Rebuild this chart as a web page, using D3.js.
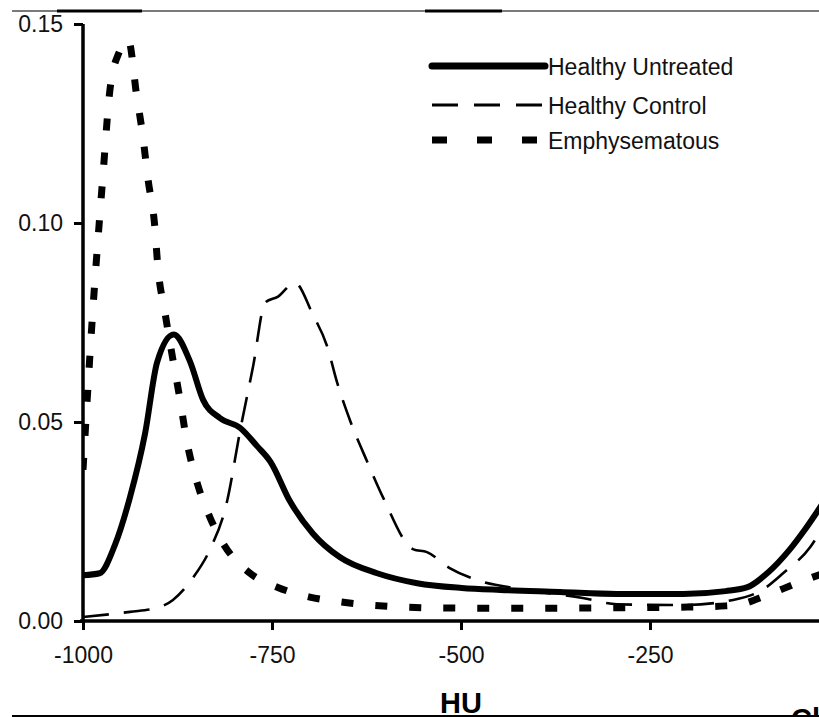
<!DOCTYPE html>
<html>
<head>
<meta charset="utf-8">
<script src="https://cdn.jsdelivr.net/npm/d3@7"></script>
<style>
  body { margin: 0; background: #fff; }
  svg { display: block; font-family: "Liberation Sans", Arial, sans-serif; }
</style>
</head>
<body>
<svg id="chart"></svg>
<script>
const WIDTH = 819
const HEIGHT = 717

// Healthy Untreated
const untreatedHU = [-1000, -978, -958, -938, -918, -902, -880, -858, -841, -819, -792, -770, -752, -726, -696, -660, -611, -558, -499, -448, -369, -294, -206, -150, -121, -95, -65, -45, -20]
const untreatedVal = [0.0115, 0.012, 0.019, 0.031, 0.047, 0.065, 0.072, 0.065, 0.0555, 0.051, 0.0485, 0.044, 0.040, 0.030, 0.022, 0.016, 0.012, 0.0095, 0.0083, 0.0078, 0.0073, 0.0068, 0.0068, 0.0075, 0.0085, 0.012, 0.018, 0.023, 0.030]

// Healthy Control
const controlHU = [-1000, -938, -902, -881, -854, -832, -810, -792, -775, -759, -742, -720, -696, -677, -664, -647, -624, -603, -563, -545, -515, -479, -420, -339, -294, -206, -140, -100, -74, -38, -20]
const controlVal = [0.001, 0.0023, 0.0033, 0.0053, 0.011, 0.018, 0.0296, 0.048, 0.064, 0.080, 0.0815, 0.085, 0.077, 0.069, 0.060, 0.0505, 0.040, 0.031, 0.018, 0.0173, 0.0133, 0.0103, 0.0080, 0.0058, 0.0042, 0.004, 0.0053, 0.008, 0.012, 0.0186, 0.024]

// Emphysematous
const emphHU = [-1000, -987, -974, -964, -952, -940, -929, -921, -914, -905, -901, -892, -881, -872, -863, -849, -832, -815, -779, -743, -700, -660, -620, -577, -537, -450, -300, -200, -150, -135, -95, -56, -20]
const emphVal = [0.038, 0.078, 0.111, 0.134, 0.143, 0.146, 0.132, 0.122, 0.111, 0.099, 0.089, 0.078, 0.0656, 0.056, 0.0455, 0.0347, 0.026, 0.0196, 0.012, 0.0085, 0.006, 0.0048, 0.004, 0.0035, 0.0033, 0.0032, 0.0033, 0.0035, 0.0038, 0.004, 0.0065, 0.0095, 0.012]

const xTicks = [-1000, -750, -500, -250]
const yTicks = [0, 0.05, 0.10, 0.15]

const seriesNames = ["Healthy Untreated", "Healthy Control", "Emphysematous"]

let svg = d3.select("#chart")
  .attr("width", WIDTH)
  .attr("height", HEIGHT)

let x = d3.scaleLinear().domain([-1000, 0]).range([83, 839])
let y = d3.scaleLinear().domain([0, 0.15]).range([621, 24])

// page rules above / below the figure
svg.append("line").attr("x1", 12).attr("x2", WIDTH).attr("y1", 11).attr("y2", 11)
  .attr("stroke", "#7a7a7a").attr("stroke-width", 2)
svg.append("line").attr("x1", 57).attr("x2", 142).attr("y1", 11).attr("y2", 11)
  .attr("stroke", "#000").attr("stroke-width", 3)
svg.append("line").attr("x1", 425).attr("x2", 502).attr("y1", 11).attr("y2", 11)
  .attr("stroke", "#000").attr("stroke-width", 3)

svg.append("clipPath").attr("id", "plot-clip")
  .append("rect").attr("x", 83).attr("y", 0).attr("width", WIDTH - 83).attr("height", 640)

let line = d3.line()
  .x(d => x(d[0]))
  .y(d => y(d[1]))
  .curve(d3.curveMonotoneX)

let plot = svg.append("g").attr("clip-path", "url(#plot-clip)")

plot.append("path")
  .datum(controlHU.map((h, i) => [h, controlVal[i]]))
  .attr("d", line)
  .attr("fill", "none")
  .attr("stroke", "#000")
  .attr("stroke-width", 2.6)
  .attr("stroke-dasharray", "26,15")

plot.append("path")
  .datum(emphHU.map((h, i) => [h, emphVal[i]]))
  .attr("d", line)
  .attr("fill", "none")
  .attr("stroke", "#000")
  .attr("stroke-width", 7)
  .attr("stroke-dasharray", "12,22")

plot.append("path")
  .datum(untreatedHU.map((h, i) => [h, untreatedVal[i]]))
  .attr("d", line)
  .attr("fill", "none")
  .attr("stroke", "#000")
  .attr("stroke-width", 6)
  .attr("stroke-linejoin", "round")

// axes
let xAxis = svg.append("g")
  .attr("transform", `translate(0, ${y(0)})`)
  .call(d3.axisBottom(x).tickValues(xTicks).tickSize(9).tickPadding(17).tickFormat(d => String(d)))
xAxis.select(".domain").remove()
xAxis.append("line").attr("x1", 80).attr("x2", WIDTH).attr("y1", 0).attr("y2", 0)
  .attr("stroke", "#000").attr("stroke-width", 3.5)

let yAxis = svg.append("g")
  .attr("transform", `translate(${x(-1000)}, 0)`)
  .call(d3.axisLeft(y).tickValues(yTicks).tickSize(9).tickPadding(11).tickFormat(d3.format(".2f")))
yAxis.select(".domain").remove()
yAxis.append("line").attr("x1", 0).attr("x2", 0).attr("y1", y(0) + 2).attr("y2", y(0.15))
  .attr("stroke", "#000").attr("stroke-width", 3.5)

svg.selectAll(".tick line").attr("stroke", "#000").attr("stroke-width", 3)
svg.selectAll(".tick text").attr("fill", "#111").style("font-size", "23px")
  .style("font-family", "'Liberation Sans', Arial, sans-serif")

// legend
let legendRows = [
  { name: seriesNames[0], y: 66, width: 7, dash: null },
  { name: seriesNames[1], y: 105, width: 2.8, dash: "26,16" },
  { name: seriesNames[2], y: 140, width: 7, dash: "15,30" }
]
legendRows.forEach(row => {
  let item = svg.append("g")
  let ln = item.append("line")
    .attr("x1", 432).attr("x2", 545).attr("y1", row.y).attr("y2", row.y)
    .attr("stroke", "#000").attr("stroke-width", row.width)
    .attr("stroke-linecap", row.dash ? "butt" : "round")
  if (row.dash) ln.attr("stroke-dasharray", row.dash)
  item.append("text").text(row.name)
    .attr("x", 548).attr("y", row.y + 9)
    .style("font-size", "23px")
    .attr("fill", "#111")
})

// axis title and the caption cut off by the page edge
svg.append("text").text("HU")
  .attr("x", x(-500)).attr("y", 713)
  .attr("text-anchor", "middle")
  .style("font-size", "29px").style("font-weight", "bold")
svg.append("text").text("Cl")
  .attr("x", 791).attr("y", 729)
  .style("font-size", "29px").style("font-weight", "bold")

svg.append("line").attr("x1", 12).attr("x2", WIDTH).attr("y1", 716).attr("y2", 716)
  .attr("stroke", "#000").attr("stroke-width", 2)
</script>
</body>
</html>
